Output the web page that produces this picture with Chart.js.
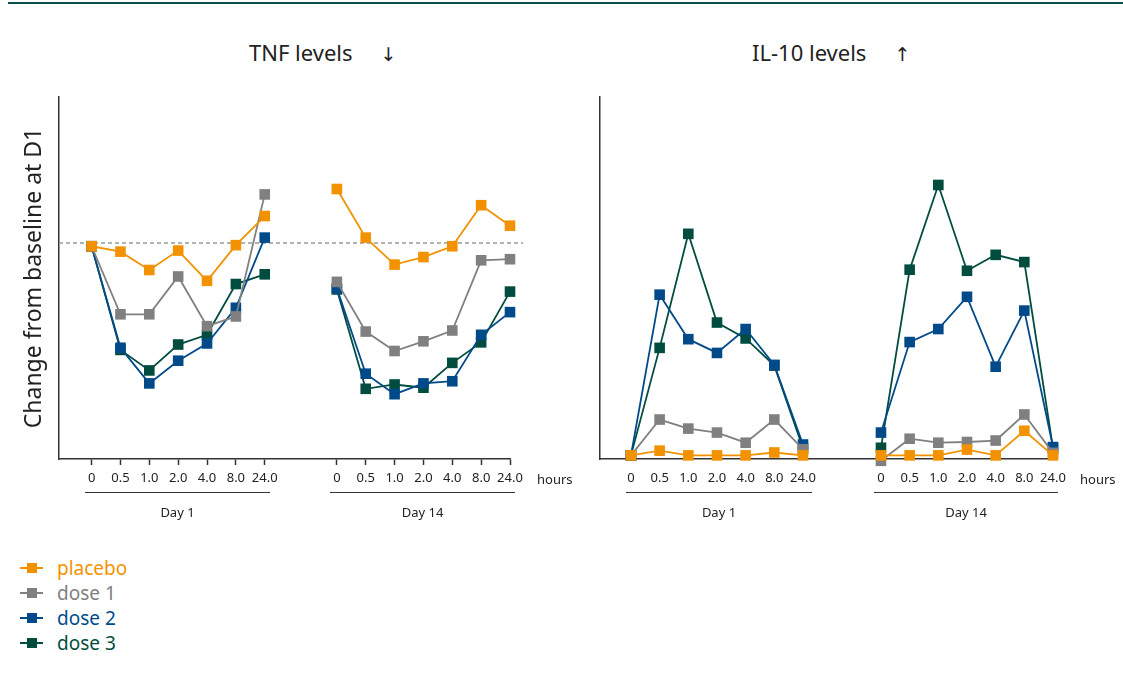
<!DOCTYPE html>
<html lang="en">
<head>
    <meta charset="UTF-8">
    <title>TNF and IL-10 levels</title>
    <style>
        body {
            margin: 0;
            padding: 0;
            background-color: white;
            font-family: "Noto Sans", sans-serif;
            color: #222;
        }
        .page {
            position: relative;
            width: 1123px;
            height: 685px;
            overflow: hidden;
        }
        .topline {
            position: absolute;
            left: 8px;
            right: 0;
            top: 2px;
            height: 2px;
            background-color: #0b4f4a;
        }
        .panel {
            position: absolute;
            top: 0;
        }
        .title {
            position: absolute;
            top: 38px;
            font-size: 22px;
            line-height: 28px;
            white-space: nowrap;
        }
        .title .arrow {
            font-family: "DejaVu Sans", sans-serif;
            font-size: 19px;
            color: #222;
            margin-left: 28px;
        }
        .day {
            position: absolute;
            top: 492px;
            border-top: 1.5px solid #333;
            text-align: center;
            font-size: 13px;
            line-height: 18px;
            padding-top: 10px;
        }
        .hours {
            position: absolute;
            top: 470px;
            font-size: 13px;
            line-height: 18px;
        }
        .legend {
            position: absolute;
            left: 20px;
            top: 555px;
        }
        .legend-item {
            display: flex;
            align-items: center;
            height: 25px;
            font-size: 19px;
        }
        .legend-mark {
            position: relative;
            width: 23px;
            height: 2px;
            margin-right: 14px;
        }
        .legend-mark span {
            position: absolute;
            left: 7px;
            top: -4px;
            width: 10px;
            height: 10px;
        }
    </style>
</head>
<body>
<div class="page">
    <div class="topline"></div>

    <div class="title" style="left:249px;">TNF levels<span class="arrow">↓</span></div>
    <div class="title" style="left:752px;">IL-10 levels<span class="arrow">↑</span></div>

    <canvas id="tnfChart" class="panel" width="590" height="540" style="left:0;"></canvas>
    <canvas id="ilChart" class="panel" width="533" height="540" style="left:590px;"></canvas>

    <div class="day" style="left:85px; width:185px;">Day 1</div>
    <div class="day" style="left:330px; width:185px;">Day 14</div>
    <div class="hours" style="left:537px;">hours</div>

    <div class="day" style="left:626px; width:186px;">Day 1</div>
    <div class="day" style="left:874px; width:184px;">Day 14</div>
    <div class="hours" style="left:1080px;">hours</div>

    <div class="legend" id="legend"></div>
</div>

<script src="https://cdn.jsdelivr.net/npm/chart.js"></script>
<script>
    // time points, the same for both days
    const hours = ['0', '0.5', '1.0', '2.0', '4.0', '8.0', '24.0'];
    const groups = ['placebo', 'dose 1', 'dose 2', 'dose 3'];
    const colors = ['#f39200', '#808080', '#004a8a', '#004d40'];

    // TNF, change from baseline (%), Day 1 then Day 14
    const tnfPlacebo = [-1.5, -4, -12.5, -3.5, -17.5, -1, 12.5,   25, 2.5, -10, -6.5, -1.5, 17.5, 8];
    const tnfDose1   = [-1.5, -33, -33, -15.5, -38.5, -34, 22.5,  -18, -41, -50, -45.5, -40.5, -8, -7.5];
    const tnfDose2   = [-1.5, -48.5, -65, -54.5, -46.5, -30, 2.5, -21, -60.5, -70, -65, -64, -42.5, -32];
    const tnfDose3   = [-1.5, -49.5, -59, -47, -42.5, -19, -14.5, -21.5, -67.5, -65.5, -67, -55.5, -46, -22.5];
    const tnfBaseline = 0;

    // IL-10, change from baseline, Day 1 then Day 14
    const ilPlacebo = [1, 2.3, 1, 1, 1, 1.8, 1,          1, 1, 1, 2.6, 1, 7.8, 1];
    const ilDose1   = [1, 10.9, 8.4, 7.3, 4.5, 10.9, 2.7, -0.5, 5.6, 4.5, 4.7, 5.1, 12.3, 1.7];
    const ilDose2   = [1, 45.4, 33.1, 29.3, 35.9, 26, 4,   7.3, 32.3, 35.9, 44.8, 25.5, 41, 3.3];
    const ilDose3   = [1, 30.7, 62.2, 37.7, 33.3, 25.8, 3, 3.1, 52.3, 75.7, 52, 56.4, 54.4, 3];

    Chart.defaults.font.family = '"Noto Sans", sans-serif';
    Chart.defaults.color = '#222';

    // x position of each time point; day 14 sits after a gap
    function xPositions(gap) {
        const pos = [];
        for (let i = 0; i < 14; i++) {
            pos.push(i < 7 ? i : i - 1 + gap);
        }
        return pos;
    }

    function buildData(values, pos) {
        const pts = [];
        values.forEach((v, i) => {
            if (i === 7) pts.push({ x: (pos[6] + pos[7]) / 2, y: null });
            pts.push({ x: pos[i], y: v });
        });
        return pts;
    }

    const baselinePlugin = {
        id: 'baseline',
        beforeDatasetsDraw(chart, args, opts) {
            if (opts.value === undefined) return;
            const { ctx, chartArea } = chart;
            const y = chart.scales.y.getPixelForValue(opts.value);
            ctx.save();
            ctx.strokeStyle = '#999';
            ctx.lineWidth = 1.5;
            ctx.setLineDash([4, 3]);
            ctx.beginPath();
            ctx.moveTo(chartArea.left, y);
            ctx.lineTo(chartArea.right + 13, y);
            ctx.stroke();
            ctx.restore();
        }
    };

    function makeChart(id, series, opts) {
        const pos = xPositions(opts.gap);
        new Chart(document.getElementById(id), {
            type: 'line',
            data: {
                datasets: series.map((values, i) => ({
                    label: groups[i],
                    data: buildData(values, pos),
                    borderColor: colors[i],
                    backgroundColor: colors[i],
                    borderWidth: 1.8,
                    pointStyle: 'rect',
                    pointRadius: 7.5,
                    pointHoverRadius: 7.5,
                    pointBorderWidth: 0,
                    spanGaps: false,
                    clip: false
                }))
            },
            options: {
                responsive: false,
                animation: false,
                layout: { padding: { top: 97, right: opts.padRight, bottom: 0, left: 0 } },
                plugins: {
                    legend: { display: false },
                    tooltip: { enabled: false },
                    baseline: { value: opts.baseline }
                },
                scales: {
                    x: {
                        type: 'linear',
                        min: opts.xMin,
                        max: pos[13],
                        afterFit(s) { s.height = 81; },
                        afterBuildTicks(s) { s.ticks = pos.map(v => ({ value: v })); },
                        border: { display: true, color: '#333', width: 1.5 },
                        grid: {
                            drawOnChartArea: false,
                            tickLength: 6,
                            tickWidth: 1.5,
                            tickColor: opts.tickColor
                        },
                        ticks: {
                            autoSkip: false,
                            maxRotation: 0,
                            padding: 5,
                            font: { size: 13 },
                            color: '#222',
                            callback: (v, i) => hours[i % 7]
                        }
                    },
                    y: {
                        min: opts.yMin,
                        max: opts.yMax,
                        afterFit(s) { s.width = opts.yWidth; },
                        border: { display: true, color: '#333', width: 1.5 },
                        grid: { display: false },
                        ticks: { display: false },
                        title: {
                            display: !!opts.yTitle,
                            text: opts.yTitle,
                            font: { size: 23 },
                            color: '#222',
                            padding: { top: 21, bottom: 0 }
                        }
                    }
                }
            },
            plugins: [baselinePlugin]
        });
    }

    makeChart('tnfChart', [tnfPlacebo, tnfDose1, tnfDose2, tnfDose3], {
        gap: 2.5, xMin: -1.13, yMin: -100, yMax: 67.6, yWidth: 59, padRight: 80,
        baseline: tnfBaseline, yTitle: 'Change from baseline at D1', tickColor: '#333'
    });

    makeChart('ilChart', [ilPlacebo, ilDose1, ilDose2, ilDose3], {
        gap: 2.72, xMin: -1.08, yMin: 0, yMax: 100, yWidth: 10, padRight: 70,
        tickColor: 'rgba(0,0,0,0)'
    });

    // legend
    const legend = document.getElementById('legend');
    groups.forEach((g, i) => {
        const item = document.createElement('div');
        item.className = 'legend-item';
        item.style.color = colors[i];
        item.innerHTML = '<div class="legend-mark" style="background:' + colors[i] +
            '"><span style="background:' + colors[i] + '"></span></div>' + g;
        legend.appendChild(item);
    });
</script>
</body>
</html>
